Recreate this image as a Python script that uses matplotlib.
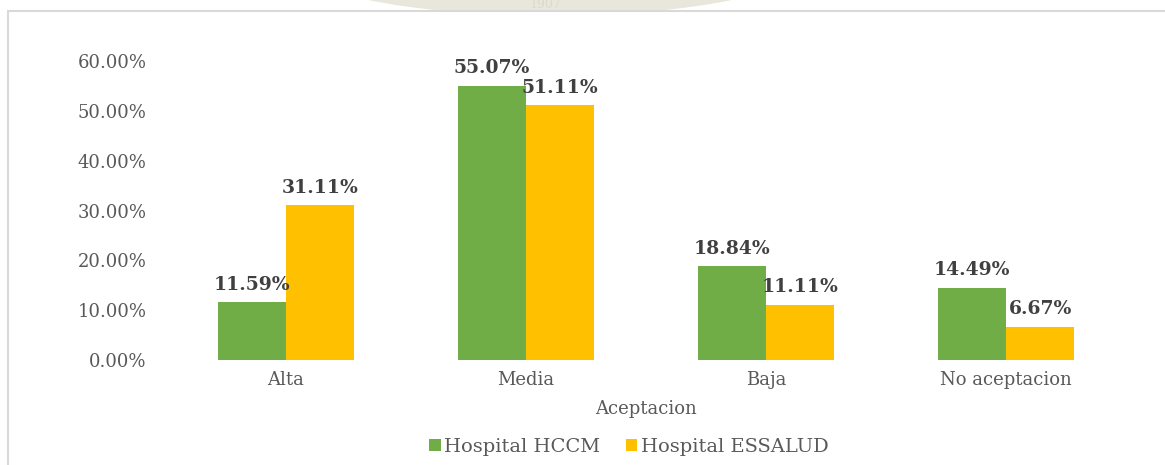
import matplotlib.pyplot as plt
import numpy as np
from matplotlib.patches import Rectangle, Ellipse

# values (percent)
categories = ["Alta", "Media", "Baja", "No aceptacion"]
hccm = [11.59, 55.07, 18.84, 14.49]
essalud = [31.11, 51.11, 11.11, 6.67]
series_names = ["Hospital HCCM", "Hospital ESSALUD"]
y_ticks = [0, 10, 20, 30, 40, 50, 60]

green = "#70AD47"
orange = "#FFC000"
gray = "#595959"
dark = "#404040"

plt.rcParams['font.family'] = ['DejaVu Serif']

fig = plt.figure(figsize=(11.65, 4.65), dpi=100)

# faint watermark seal showing above the chart frame
fig.patches.append(Ellipse((550 / 1165, 1 - (-40) / 465), 520 / 1165, 110 / 465,
                           transform=fig.transFigure, color="#e9e7dc", zorder=0))
fig.text(545 / 1165, 1 - 5 / 465, "1907", color="#dcd9cc", fontsize=9,
         ha="center", va="center", zorder=0.5)
# chart frame
fig.patches.append(Rectangle((8 / 1165, -0.1), 1.2, 1 - 11 / 465 + 0.1,
                             transform=fig.transFigure, facecolor="white",
                             edgecolor="#d9d9d9", linewidth=1.5, zorder=1))

ax = fig.add_axes([166 / 1165, 1 - 360 / 465, 960 / 1165, 299 / 465], zorder=2)
ax.patch.set_alpha(0)

x = np.arange(len(categories))
w = 0.285
b1 = ax.bar(x - w / 2, hccm, w, color=green, label=series_names[0])
b2 = ax.bar(x + w / 2, essalud, w, color=orange, label=series_names[1])

for bars, vals in ((b1, hccm), (b2, essalud)):
    for bar, v in zip(bars, vals):
        ax.annotate(f"{v:.2f}%", (bar.get_x() + bar.get_width() / 2, v),
                    xytext=(0, 6), textcoords="offset points",
                    ha="center", va="bottom", fontsize=13.5,
                    fontweight="bold", color=dark)

ax.set_xlim(-0.5, 3.5)
ax.set_ylim(0, 60)
ax.set_yticks(y_ticks)
ax.set_yticklabels([f"{t:.2f}%" for t in y_ticks])
ax.set_xticks(x)
ax.set_xticklabels(categories)
ax.tick_params(axis="y", length=0, pad=14, labelsize=13, labelcolor=gray)
ax.tick_params(axis="x", length=0, pad=8, labelsize=13, labelcolor=gray)
for s in ax.spines.values():
    s.set_visible(False)

ax.set_xlabel("Aceptacion", fontsize=13, color=gray, labelpad=8)

fig.legend(loc="center", bbox_to_anchor=(629 / 1165, 1 - 447 / 465), ncol=2,
           frameon=False, fontsize=14, labelcolor=gray,
           handlelength=0.6, handleheight=0.6, handletextpad=0.2,
           columnspacing=1.3)

fig.savefig("out.png", dpi=100)
